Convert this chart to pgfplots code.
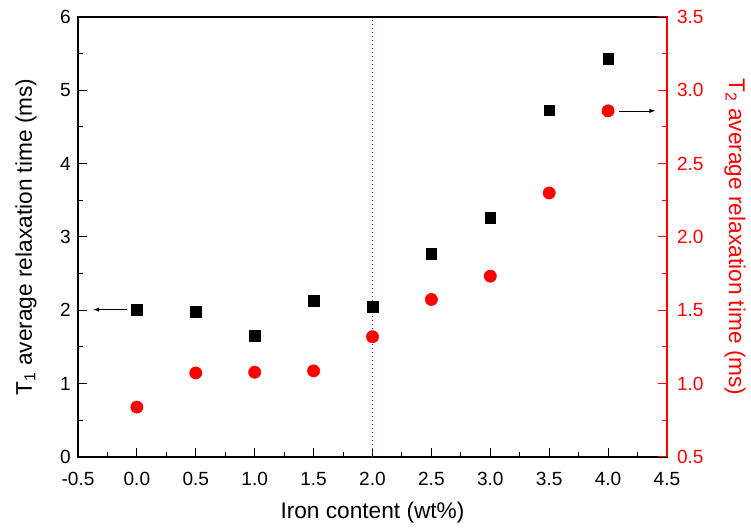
\documentclass[border=0pt]{standalone}
\usepackage{fontspec}
\setmainfont{Liberation Sans}
\usepackage{pgfplots}
\pgfplotsset{compat=1.18}
\begin{document}
\begin{tikzpicture}
\pgfplotsset{
  common/.style={
    scale only axis, width=441.75pt, height=330pt,
    xmin=-0.5, xmax=4.5,
    tick align=inside,
    major tick length=7pt, minor tick length=3.75pt,
    every tick/.style={line width=0.75pt},
    /pgf/number format/assume math mode=true,
    tick label style={font=\fontsize{14.3}{16}\selectfont},
    clip=false,
  }
}
\begin{axis}[common, name=ax1,
  ymin=0, ymax=6, ytick={0,1,2,3,4,5,6}, minor y tick num=1,
  xtick={-0.5,0,0.5,1,1.5,2,2.5,3,3.5,4,4.5}, minor x tick num=1,
  xtick pos=left, ytick pos=left,
  xticklabel style={yshift=-8pt, /pgf/number format/.cd, fixed, fixed zerofill, precision=1},
  yticklabel style={xshift=-2pt},
  axis line style={line width=1pt},
  every axis x label/.style={at={([yshift=-42pt]axis description cs:0.5,0)}, anchor=center, font=\fontsize{17}{20}\selectfont},
  every axis y label/.style={at={([xshift=-39pt]axis description cs:0,0.5)}, anchor=center, rotate=90, font=\fontsize{17}{20}\selectfont},
  xlabel={Iron content (wt\%)},
  ylabel={T\textsubscript{1} average relaxation time (ms)},
]
\addplot[red, line width=0.75pt, dash pattern=on 0.75pt off 2.25pt] coordinates {(2,0) (2,6)};
\addplot[only marks, mark=square*, mark size=4pt, black] coordinates {
(0,2.01) (0.5,1.98) (1,1.65) (1.5,2.13) (2,2.05) (2.5,2.775) (3,3.26) (3.5,4.73) (4,5.43)};
\draw[-latex, line width=0.5pt] (axis cs:-0.08,2.01) -- (axis cs:-0.37,2.01);
\end{axis}
\begin{axis}[common, name=ax2,
  axis x line=none, axis y line*=right,
  ymin=0.5, ymax=3.5, ytick={0.5,1,1.5,2,2.5,3,3.5}, minor y tick num=1,
  yticklabel style={red, xshift=4pt, /pgf/number format/.cd, fixed, fixed zerofill, precision=1},
  y axis line style={-, red, line width=1pt},
  ytick style={red},
  every axis y label/.style={at={([xshift=51pt]axis description cs:1,0.5)}, anchor=center, rotate=-90, red, font=\fontsize{17}{20}\selectfont},
  ylabel={T\textsubscript{2} average relaxation time (ms)},
]
\addplot[only marks, mark=*, mark size=4.6pt, red] coordinates {
(0,0.84) (0.5,1.073) (1,1.078) (1.5,1.087) (2,1.32) (2.5,1.574) (3,1.733) (3.5,2.30) (4,2.86)};
\draw[-latex, line width=0.5pt] (axis cs:4.09,2.86) -- (axis cs:4.40,2.86);
\end{axis}
\pgfresetboundingbox
\path ([shift={(-58.5pt,-55.5pt)}]ax1.south west) rectangle ([shift={(63pt,12.75pt)}]ax1.north east);
\end{tikzpicture}
\end{document}
